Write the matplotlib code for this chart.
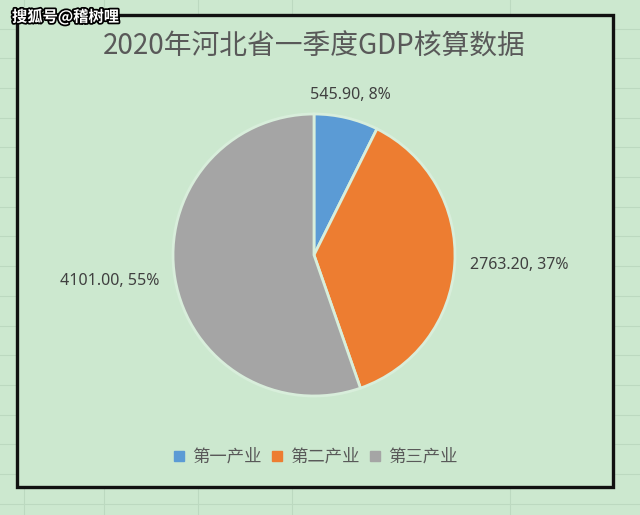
import matplotlib.pyplot as plt
import matplotlib.patheffects as pe
from matplotlib.patches import Rectangle
from matplotlib.lines import Line2D
import numpy as np

plt.rcParams['font.family'] = ['Noto Sans CJK SC', 'DejaVu Sans']

# dados
categorias = ['第一产业', '第二产业', '第三产业']
valores = [545.90, 2763.20, 4101.00]
percentuais = [8, 37, 55]  # como aparecem no rotulo
cores = ['#5b9bd5', '#ed7d31', '#a5a5a5']
titulo = '2020年河北省一季度GDP核算数据'
marca = '搜狐号@稽树哩'

fundo = '#cce8cf'
W, H = 640, 515

fig = plt.figure(figsize=(6.4, 5.15), dpi=100)
fig.patch.set_facecolor(fundo)

def fx(px):
    return px / W

def fy(py):
    return 1 - py / H

# linhas da planilha ao fundo
for y in np.arange(28.6, H, 29.7):
    fig.add_artist(Line2D([0, 1], [fy(y), fy(y)], color='#bcd9c0', lw=0.8, zorder=-3))
for x in [24, 104, 198, 292, 510]:
    fig.add_artist(Line2D([fx(x), fx(x)], [0, 1], color='#bcd9c0', lw=0.8, zorder=-3))

# area do grafico
caixa = Rectangle((fx(17), fy(487)), fx(613) - fx(17), fy(15) - fy(487),
                  transform=fig.transFigure, facecolor=fundo, edgecolor='#111111',
                  lw=2.4, zorder=-1)
fig.add_artist(caixa)

# pizza
cx, cy, r = 314, 255, 141
ax = fig.add_axes([fx(cx - r), fy(cy + r), 2 * r / W, 2 * r / H])
ax.patch.set_alpha(0)
wedges, _ = ax.pie(valores, colors=cores, startangle=90, counterclock=False,
                   wedgeprops=dict(edgecolor='#d8eedb', linewidth=2))
ax.set_xlim(-1, 1)
ax.set_ylim(-1, 1)
ax.axis('off')

for w, v, p in zip(wedges, valores, percentuais):
    ang = np.deg2rad((w.theta1 + w.theta2) / 2)
    x = 1.11 * np.cos(ang)
    y = 1.11 * np.sin(ang)
    if abs(np.cos(ang)) < 0.5:
        ha = 'center'
        va = 'bottom' if y > 0 else 'top'
    else:
        ha = 'left' if x > 0 else 'right'
        va = 'center'
    txt = '{:.2f}, {}%'.format(v, p)
    ax.text(x, y, txt, ha=ha, va=va, fontsize=11.5, color='#404040',
            family=['Noto Sans', 'DejaVu Sans'], clip_on=False)

# titulo
fig.text(fx(314), fy(47), titulo, ha='center', va='center', fontsize=20, color='#595959',
         weight='light')

# legenda
handles = [Line2D([], [], marker='s', ls='', color=c, markersize=7) for c in cores]
leg = fig.legend(handles, categorias, loc='center', bbox_to_anchor=(fx(315), fy(457)),
                 ncol=3, frameon=False, fontsize=12.5, handlelength=0.8, handletextpad=0.35,
                 columnspacing=0.5, labelcolor='#595959')

# marca d'agua
fig.text(fx(12), fy(17), marca, ha='left', va='center', fontsize=11, color='white',
         weight='bold', path_effects=[pe.withStroke(linewidth=2.5, foreground='black')])

fig.savefig('out.png', dpi=100, facecolor=fundo)
